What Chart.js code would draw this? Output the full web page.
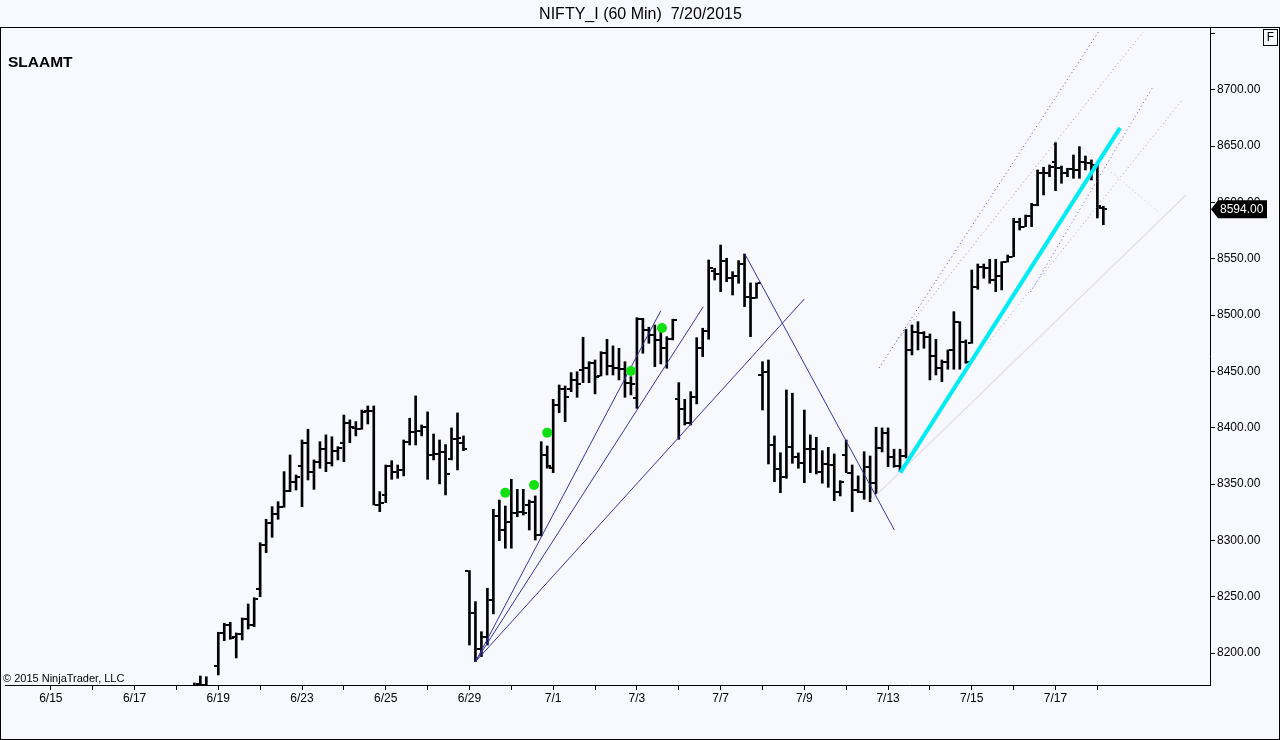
<!DOCTYPE html>
<html>
<head>
<meta charset="utf-8">
<title>NIFTY_I (60 Min)</title>
<script src="https://cdn.jsdelivr.net/npm/chart.js@4.4.1/dist/chart.umd.min.js"></script>
<style>
html, body { margin: 0; padding: 0; background: #F8F8FF; }
#wrap { width: 1280px; height: 740px; }
</style>
</head>
<body>
<div id="wrap"><canvas id="chart" width="1280" height="740"></canvas></div>
<script>
// trading days on the x axis, 7 hourly bars each (7/20 is still open)
var days = ['6/15','6/16','6/17','6/18','6/19','6/22','6/23','6/24','6/25','6/26',
  '6/29','6/30','7/1','7/2','7/3','7/6','7/7','7/8','7/9','7/10',
  '7/13','7/14','7/15','7/16','7/17','7/20'];
var barsPerDay = 7;

// 60 min bars, one row per day
var opens = [
  8010, 7995, 7975, 7984, 7992, 7998, 8006,
  8010, 7978, 7988, 8001, 8015, 8027, 8038,
  8052, 8070, 8066, 8076, 8089, 8085, 8094,
  8104, 8121, 8134, 8146, 8172.5, 8172, 8163,
  8188.8, 8217.5, 8224.9, 8214, 8217, 8230, 8225,
  8256.8, 8296, 8315, 8323, 8329.4, 8344, 8352,
  8366, 8386.7, 8361, 8369.8, 8381, 8369, 8379.3,
  8386.4, 8403.9, 8399.8, 8398.9, 8414.9, 8415.1, 8331.4,
  8340.3, 8366, 8361, 8362.5, 8387.6, 8396.5, 8397.4,
  8400.9, 8375.8, 8377, 8378, 8372, 8389.7, 8386.4,
  8273.1, 8235.3, 8203.3, 8214, 8247, 8321.7, 8309.2,
  8316.6, 8324, 8325, 8331.4, 8334, 8304.8, 8375.8,
  8364, 8420.2, 8434.1, 8434, 8442.4, 8451.3, 8452.8,
  8457.2, 8445.9, 8466.1, 8454.8, 8452.8, 8452.1, 8439.4,
  8426.1, 8496.5, 8486.8, 8482.3, 8477.9, 8470.5, 8478.5,
  8425.2, 8416.4, 8404.5, 8427.5, 8470.5, 8486.1, 8539.1,
  8536.5, 8548.3, 8532.7, 8534.7, 8545.3, 8515.8, 8514.9,
  8446.8, 8449.7, 8384.7, 8363.1, 8356, 8383.2, 8373.8,
  8369, 8380.9, 8381.5, 8361, 8367.8, 8366.9, 8343.2,
  8375.8, 8360.1, 8344.7, 8343.2, 8365.4, 8351.2, 8381.7,
  8395.6, 8374.3, 8366, 8374.9, 8469, 8485.3, 8484.1,
  8480.8, 8463.7, 8452.8, 8458.6, 8469, 8494.1, 8476.4,
  8475.5, 8525.2, 8543, 8541.5, 8531.1, 8534.7, 8547.1,
  8551.8, 8582.6, 8578.5, 8588, 8598, 8626.4, 8625.9,
  8636.2, 8630.3, 8626.4, 8629.4, 8628.5, 8636.2, 8635,
  8633.2, 8595
];
var highs = [
  8024, 8001, 7989, 7998, 8004, 8012, 8018,
  8016, 7992, 8006, 8020, 8031, 8044, 8051,
  8078, 8085, 8080, 8094, 8102, 8099, 8108,
  8126, 8140, 8150, 8173.4, 8179.6, 8178.9, 8170,
  8218.4, 8226.4, 8227.3, 8217.8, 8231.1, 8243.5, 8249.1,
  8297.9, 8318.7, 8329.9, 8334.3, 8361, 8375.8, 8358,
  8389.1, 8398.6, 8371.4, 8387.6, 8393.6, 8392, 8383.2,
  8411.3, 8406.9, 8405.4, 8415.7, 8419.3, 8419.3, 8343.2,
  8366.9, 8370.7, 8366.9, 8389.1, 8408.4, 8428.2, 8402.4,
  8414, 8394.4, 8389.1, 8385, 8399.8, 8413.1, 8392.7,
  8273.1, 8245.6, 8218.9, 8257.5, 8327.6, 8335.8, 8330.5,
  8354.2, 8345.3, 8345.3, 8335.8, 8339.4, 8387.6, 8383.8,
  8425.2, 8437.9, 8437, 8448.9, 8449.7, 8480.3, 8458.6,
  8460.1, 8467.5, 8478.5, 8472.6, 8470.5, 8458.6, 8445.3,
  8497.7, 8497.1, 8489.2, 8491.2, 8488.5, 8480.8, 8496.3,
  8440, 8425.2, 8432, 8479.9, 8488.3, 8548.9, 8541.5,
  8562.2, 8550.4, 8538.5, 8548.3, 8554.2, 8528.5, 8528.5,
  8458.6, 8460.1, 8392.7, 8377.8, 8433.5, 8430.6, 8377.6,
  8415.7, 8393.6, 8391.5, 8379.6, 8382.6, 8376.7, 8353,
  8389.1, 8366.9, 8357.2, 8378.7, 8374.9, 8400.4, 8399.8,
  8399.8, 8380.9, 8380.9, 8487.4, 8491.2, 8494.1, 8485.3,
  8483.2, 8478.5, 8460.1, 8469, 8503, 8494.1, 8477.9,
  8540, 8545.3, 8545.3, 8549.5, 8549.5, 8547.4, 8553.3,
  8585.9, 8585.9, 8588.8, 8599.2, 8628.8, 8631.2, 8633.2,
  8653, 8632.3, 8630.3, 8642.1, 8649.5, 8641.2, 8637.7,
  8635, 8596.6
];
var lows = [
  7990, 7968, 7962, 7978, 7985, 7990, 8000,
  7970, 7964, 7982, 7996, 8008, 8020, 8030,
  8048, 8062, 8058, 8070, 8081, 8078, 8088,
  8098, 8115, 8128, 8140, 8160, 8158, 8152,
  8180.5, 8210.9, 8212.2, 8195.6, 8211.6, 8221.3, 8223.4,
  8250, 8289.1, 8302.7, 8318.7, 8329.4, 8343.2, 8344.7,
  8329.9, 8353.6, 8345.3, 8364, 8361, 8366, 8371.4,
  8369.8, 8386.7, 8392.7, 8398.6, 8403.3, 8331.4, 8325.5,
  8333.5, 8354.2, 8355.1, 8357.2, 8384.7, 8384.7, 8392.7,
  8354.2, 8371.4, 8350.1, 8340.3, 8371.4, 8362.5, 8379.6,
  8207.1, 8192.3, 8196.8, 8207.1, 8234.7, 8299.7, 8293,
  8293, 8321, 8322.5, 8309.2, 8300.3, 8303.9, 8364,
  8360.1, 8413.3, 8405.4, 8432, 8427, 8440, 8440,
  8430, 8445.9, 8446.8, 8446.8, 8442.4, 8427, 8429.1,
  8417.2, 8466.1, 8474.9, 8454.2, 8456.6, 8452.8, 8477.9,
  8389.7, 8402.4, 8402.4, 8421.1, 8463.1, 8478.5, 8531.1,
  8520.8, 8529.6, 8517.8, 8528.2, 8507.4, 8480.8, 8514.9,
  8415.7, 8367.8, 8352.1, 8342.3, 8355.1, 8368.4, 8364,
  8351.2, 8360.1, 8358.9, 8350.7, 8347.1, 8335.2, 8339.4,
  8360.1, 8325.5, 8342.3, 8336.5, 8334.3, 8341.2, 8378.5,
  8365.4, 8364.9, 8361, 8373.1, 8464.6, 8469, 8470.5,
  8442.4, 8446.8, 8440.9, 8451.9, 8451.9, 8451.9, 8457.2,
  8474.9, 8522.9, 8532.7, 8528.2, 8520.8, 8522.3, 8547.1,
  8551.8, 8575.5, 8578.5, 8578.5, 8597, 8606.6, 8622.8,
  8610.4, 8617, 8622.8, 8621.4, 8621.4, 8628.8, 8619.9,
  8586.2, 8580.2
];
var closes = [
  7995, 7975, 7984, 7992, 7998, 8006, 8014,
  7978, 7988, 8001, 8015, 8027, 8038, 8046,
  8070, 8066, 8076, 8089, 8085, 8094, 8101,
  8121, 8134, 8146, 8166, 8172, 8163, 8166,
  8217.5, 8224.9, 8213.1, 8216.6, 8230.2, 8224.9, 8247.7,
  8295.9, 8315.2, 8323.4, 8329.4, 8344.1, 8352.1, 8356,
  8386.7, 8361, 8369.8, 8380.9, 8369, 8379.3, 8381.7,
  8403.9, 8400.7, 8398.9, 8414.2, 8415.1, 8331.4, 8333.5,
  8366, 8361, 8362.5, 8387.6, 8396.5, 8397.4, 8400.9,
  8375.8, 8377, 8378, 8358.9, 8389.7, 8390.5, 8380.9,
  8235.3, 8203.3, 8214, 8247.1, 8321.7, 8309.2, 8316.6,
  8324, 8325, 8324, 8334.1, 8304.8, 8375.8, 8366,
  8420.2, 8434.1, 8427.5, 8442.4, 8438.8, 8452.8, 8457.2,
  8445.3, 8466.1, 8454.8, 8452.8, 8452.1, 8439.4, 8438.8,
  8496.5, 8486.8, 8482.3, 8477.9, 8470.5, 8478.5, 8495.6,
  8416.4, 8404.5, 8427.5, 8470.5, 8486.1, 8541.5, 8536.5,
  8548.3, 8532.7, 8534.7, 8545.3, 8515.8, 8514.9, 8528.2,
  8449.7, 8384.7, 8363.1, 8356, 8383.2, 8373.8, 8369,
  8380.9, 8381.5, 8361, 8367.8, 8366.9, 8343.2, 8352.1,
  8360.1, 8344.7, 8343.2, 8365.4, 8351.2, 8381.7, 8395.3,
  8374.3, 8366, 8374.9, 8469, 8485.3, 8484.1, 8480.8,
  8463.7, 8452.8, 8458.6, 8469, 8494.1, 8476.4, 8458.3,
  8525.2, 8543, 8541.5, 8531.1, 8534.7, 8547.1, 8551.8,
  8582.6, 8578.5, 8588, 8597.7, 8626.4, 8625.9, 8631.2,
  8630.3, 8626.4, 8629.4, 8628.5, 8636.2, 8635, 8633.2,
  8596.6, 8594
];

var yTicks = [8200, 8250, 8300, 8350, 8400, 8450, 8500, 8550, 8600, 8650, 8700, 8750];

// green signal dots (bar position, price)
var dotBars = [76, 80.8, 83, 97, 102.2];
var dotPrices = [8342.3, 8349.2, 8395.6, 8450.4, 8488.5];

// drawn objects: [barStart, priceStart, barEnd, priceEnd]
var fanLines = [
  [71, 8192.3, 102, 8503.9],
  [71, 8192.3, 109.1, 8507.4],
  [71, 8192.3, 126, 8514.3]
];
var downLine = [116.05, 8554.2, 141.05, 8309.2];
var cyanLine = [142.05, 8360.1, 178.8, 8666.1];
var channelLines = [
  [138.5, 8453, 175.17, 8751.3],
  [141.33, 8476.1, 182.67, 8751.3],
  [163.83, 8520.5, 184.17, 8701.6],
  [156.33, 8472.6, 189.17, 8690.9],
  [172.17, 8650.1, 185, 8592.4]
];
var whiteLine = [137.17, 8335.8, 189.83, 8606.6];

var FONT = '"Liberation Sans", Arial, sans-serif';

function tickImage(side) {
  var c = document.createElement('canvas');
  c.width = 8; c.height = 2;
  var g = c.getContext('2d');
  g.fillStyle = '#000';
  if (side === 'left') g.fillRect(0, 0, 3, 2); else g.fillRect(5, 0, 3, 2);
  return c;
}

function seg(arr, color, width, dash) {
  return {
    type: 'line',
    data: [{x: arr[0], y: arr[1]}, {x: arr[2], y: arr[3]}],
    borderColor: color,
    borderWidth: width,
    borderDash: dash || [],
    pointRadius: 0,
    fill: false,
    tension: 0
  };
}

var barData = [], openData = [], closeData = [];
for (var i = 0; i < opens.length; i++) {
  barData.push({x: i, y: [lows[i], highs[i]]});
  openData.push({x: i, y: opens[i]});
  closeData.push({x: i, y: closes[i]});
}
var dotData = dotBars.map(function(b, k) { return {x: b, y: dotPrices[k]}; });

var datasets = [];
datasets.push({
  type: 'line', data: dotData, showLine: false,
  pointRadius: 5, pointBackgroundColor: '#10e010', pointBorderWidth: 0
});
datasets.push(seg(cyanLine, '#00ecf4', 4));
datasets.push(seg(downLine, '#3535a5', 1));
fanLines.forEach(function(l) { datasets.push(seg(l, '#3535a5', 1)); });
var chColors = ['#4a4ae6', '#8c8cf0', '#5a5ae8', '#a0a0f0', '#c4c4ee'];
channelLines.forEach(function(l, k) { datasets.push(seg(l, chColors[k], 1, [1, 3])); });
datasets.push(seg(whiteLine, '#e2e2f2', 1.5));
datasets.push({
  type: 'line', data: openData, showLine: false,
  pointStyle: tickImage('left'), pointRadius: 1
});
datasets.push({
  type: 'line', data: closeData, showLine: false,
  pointStyle: tickImage('right'), pointRadius: 1
});
datasets.push({
  type: 'bar', data: barData, backgroundColor: '#000',
  borderWidth: 0, barThickness: 2, grouped: false
});

var frame = {
  id: 'frame',
  beforeDraw: function(chart) {
    var ctx = chart.ctx;
    ctx.save();
    ctx.fillStyle = '#F8F8FF';
    ctx.fillRect(0, 0, chart.width, chart.height);
    ctx.restore();
  },
  afterDraw: function(chart) {
    var ctx = chart.ctx, a = chart.chartArea, ys = chart.scales.y;
    ctx.save();
    ctx.strokeStyle = '#000';
    ctx.lineWidth = 1;
    ctx.strokeRect(0.5, a.top + 0.5, chart.width - 1, chart.height - a.top - 1);

    ctx.fillStyle = '#000';
    ctx.textBaseline = 'alphabetic';
    ctx.textAlign = 'left';
    ctx.font = 'bold 15.5px ' + FONT;
    ctx.fillText('SLAAMT', 8, 67);
    ctx.font = '11px ' + FONT;
    ctx.fillText('\u00a9 2015 NinjaTrader, LLC', 3, a.bottom - 3);

    // "F" button
    ctx.strokeRect(1263.5, 29.5, 14, 16);
    ctx.font = '12px ' + FONT;
    ctx.textAlign = 'center';
    ctx.textBaseline = 'middle';
    ctx.fillText('F', 1270.5, 38);

    // last price marker
    var last = closes[closes.length - 1];
    var py = ys.getPixelForValue(last);
    ctx.beginPath();
    ctx.moveTo(a.right + 1, py);
    ctx.lineTo(a.right + 8, py - 9);
    ctx.lineTo(a.right + 57, py - 9);
    ctx.lineTo(a.right + 57, py + 9);
    ctx.lineTo(a.right + 8, py + 9);
    ctx.closePath();
    ctx.fill();
    ctx.fillStyle = '#fff';
    ctx.textAlign = 'left';
    ctx.fillText(last.toFixed(2), a.right + 10, py + 1);
    ctx.restore();
  }
};

new Chart(document.getElementById('chart'), {
  type: 'bar',
  data: { datasets: datasets },
  options: {
    responsive: false,
    animation: false,
    events: [],
    layout: { padding: { left: 1, right: 0, top: 0, bottom: 0 } },
    plugins: {
      legend: { display: false },
      tooltip: { enabled: false },
      title: {
        display: true,
        text: 'NIFTY_I (60 Min)  7/20/2015',
        color: '#000',
        font: { family: FONT, size: 16, weight: 'normal', lineHeight: 1.2 },
        padding: { top: 5, bottom: 2.8 }
      }
    },
    scales: {
      x: {
        type: 'linear',
        min: -23 / 3,
        max: 1163 / 6,
        offset: false,
        grid: { offset: false, drawOnChartArea: false, drawTicks: true, tickLength: 5, color: '#000' },
        border: { display: true, color: '#000', width: 1 },
        ticks: {
          color: '#000',
          font: { family: FONT, size: 12 },
          padding: 1,
          autoSkip: false,
          maxRotation: 0,
          minRotation: 0,
          callback: function(v, i) { return i % 2 === 0 ? days[i] : ''; }
        },
        afterBuildTicks: function(s) {
          s.ticks = days.map(function(d, k) { return { value: k * barsPerDay }; });
        },
        afterFit: function(s) { s.height = 55; }
      },
      y: {
        type: 'linear',
        position: 'right',
        min: 8171.6,
        max: 8755.7,
        grid: { offset: false, drawOnChartArea: false, drawTicks: true, tickLength: 5, color: '#000' },
        border: { display: true, color: '#000', width: 1 },
        ticks: {
          color: '#000',
          font: { family: FONT, size: 12 },
          padding: 2,
          callback: function(v) { return v === yTicks[yTicks.length - 1] ? '' : v.toFixed(2); }
        },
        afterBuildTicks: function(s) {
          s.ticks = yTicks.map(function(v) { return { value: v }; });
        },
        afterFit: function(s) { s.width = 70; }
      }
    }
  },
  plugins: [frame]
});
</script>
</body>
</html>
